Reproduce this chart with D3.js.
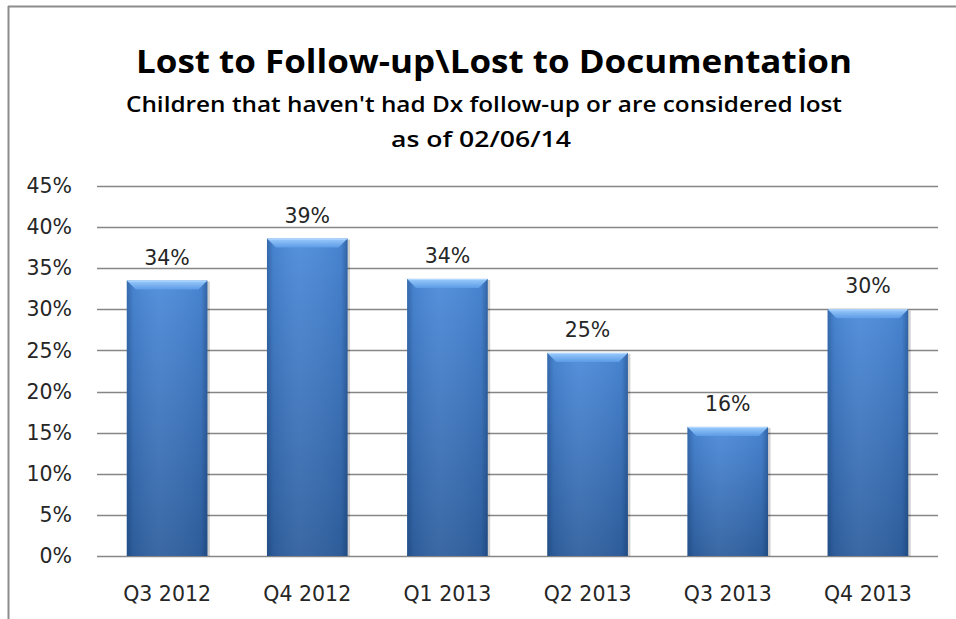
<!DOCTYPE html>
<html>
<head>
<meta charset="utf-8">
<script src="https://cdn.jsdelivr.net/npm/d3@7/dist/d3.min.js"></script>
<style>
  html, body { margin: 0; padding: 0; background: #fff; }
  svg { display: block; }
</style>
</head>
<body>
<div id="chart"></div>
<script>
"use strict";

var categories = ["Q3 2012", "Q4 2012", "Q1 2013", "Q2 2013", "Q3 2013", "Q4 2013"];
var values = [0.335, 0.386, 0.337, 0.247, 0.157, 0.300];
var valueLabels = ["34%", "39%", "34%", "25%", "16%", "30%"];
var yTicks = [0, 0.05, 0.10, 0.15, 0.20, 0.25, 0.30, 0.35, 0.40, 0.45];
var titleLines = ["Lost to Follow-up\\Lost to Documentation"];
var subtitleLines = ["Children that haven't had Dx follow-up or are considered lost", "as of 02/06/14"];

(function () {
    var W = 956, H = 619;
    var plot = { left: 97, right: 938, top: 186, bottom: 556 };
    var labelFont = "'DejaVu Sans', Verdana, sans-serif";
    var labelSize = "20.5px";

    var svg = d3.select("#chart").append("svg")
        .attr("width", W)
        .attr("height", H);

    var defs = svg.append("defs");

    //  Gradients  ---
    var vGrad = defs.append("linearGradient").attr("id", "barV")
        .attr("x1", 0).attr("y1", 0).attr("x2", 0).attr("y2", 1);
    vGrad.append("stop").attr("offset", "0%").attr("stop-color", "#4d8bda");
    vGrad.append("stop").attr("offset", "100%").attr("stop-color", "#30609f");

    var hGrad = defs.append("linearGradient").attr("id", "barH")
        .attr("x1", 0).attr("y1", 0).attr("x2", 1).attr("y2", 0);
    hGrad.append("stop").attr("offset", "0%").attr("stop-color", "#0a2a55").attr("stop-opacity", 0.35);
    hGrad.append("stop").attr("offset", "8%").attr("stop-color", "#0a2a55").attr("stop-opacity", 0.08);
    hGrad.append("stop").attr("offset", "40%").attr("stop-color", "#ffffff").attr("stop-opacity", 0.05);
    hGrad.append("stop").attr("offset", "92%").attr("stop-color", "#0a2a55").attr("stop-opacity", 0.08);
    hGrad.append("stop").attr("offset", "100%").attr("stop-color", "#0a2a55").attr("stop-opacity", 0.4);

    var topGrad = defs.append("linearGradient").attr("id", "barTop")
        .attr("x1", 0).attr("y1", 0).attr("x2", 0).attr("y2", 1);
    topGrad.append("stop").attr("offset", "0%").attr("stop-color", "#9acbfb");
    topGrad.append("stop").attr("offset", "100%").attr("stop-color", "#5d9be6");

    //  Frame (only left and top edges visible)  ---
    svg.append("line")
        .attr("x1", 8.5).attr("y1", 6).attr("x2", 8.5).attr("y2", H)
        .attr("stroke", "#8c8c8c").attr("stroke-width", 2);
    svg.append("line")
        .attr("x1", 8).attr("y1", 6.5).attr("x2", W).attr("y2", 6.5)
        .attr("stroke", "#8c8c8c").attr("stroke-width", 2);

    //  Titles  ---
    svg.append("text")
        .attr("x", 494).attr("y", 73)
        .attr("text-anchor", "middle")
        .style("font-family", "'Open Sans', 'Noto Sans', sans-serif")
        .style("font-weight", "bold")
        .style("font-size", "32px")
        .attr("textLength", 716)
        .attr("lengthAdjust", "spacingAndGlyphs")
        .attr("fill", "#000")
        .text(titleLines[0]);

    svg.selectAll(".subtitle").data(subtitleLines).enter().append("text")
        .attr("class", "subtitle")
        .attr("x", function (d, i) { return i === 0 ? 484 : 481; })
        .attr("y", function (d, i) { return 112 + i * 35; })
        .attr("text-anchor", "middle")
        .style("font-family", "'Open Sans', 'Noto Sans', sans-serif")
        .style("font-weight", "600")
        .style("font-size", "22px")
        .attr("textLength", function (d, i) { return i === 0 ? 716 : 180; })
        .attr("lengthAdjust", "spacingAndGlyphs")
        .attr("fill", "#000")
        .text(function (d) { return d; });

    //  Scales  ---
    var x = d3.scaleBand()
        .domain(categories)
        .range([plot.left, plot.right])
        .paddingInner(0.425)
        .paddingOuter(0.2125);

    var y = d3.scaleLinear()
        .domain([0, 0.45])
        .range([plot.bottom, plot.top]);

    //  Gridlines  ---
    svg.append("g")
        .attr("class", "grid")
        .selectAll("line").data(yTicks).enter().append("line")
        .attr("x1", plot.left)
        .attr("x2", plot.right)
        .attr("y1", function (d) { return Math.round(y(d)) + 0.5; })
        .attr("y2", function (d) { return Math.round(y(d)) + 0.5; })
        .attr("stroke", "#868686")
        .attr("stroke-width", 1.3);

    //  Y axis labels  ---
    var yAxis = d3.axisLeft(y)
        .tickValues(yTicks)
        .tickFormat(d3.format(".0%"))
        .tickSize(0)
        .tickPadding(25);
    var yG = svg.append("g")
        .attr("transform", "translate(" + plot.left + ",0)")
        .call(yAxis);
    yG.select(".domain").remove();
    yG.selectAll("text")
        .style("font-family", labelFont)
        .style("font-size", labelSize)
        .attr("fill", "#262626");

    //  X axis labels  ---
    var xAxis = d3.axisBottom(x).tickSize(0).tickPadding(30);
    var xG = svg.append("g")
        .attr("transform", "translate(0," + plot.bottom + ")")
        .call(xAxis);
    xG.select(".domain").remove();
    xG.selectAll("text")
        .style("font-family", labelFont)
        .style("font-size", labelSize)
        .attr("fill", "#262626");

    //  Bars  ---
    var bev = 9;
    var bars = svg.append("g").attr("class", "bars")
        .selectAll("g").data(values).enter().append("g");

    // soft shadow
    bars.append("rect")
        .attr("x", function (d, i) { return x(categories[i]) + 1; })
        .attr("y", function (d) { return y(d) + 1; })
        .attr("width", x.bandwidth() + 1.5)
        .attr("height", function (d) { return y(0) - y(d) - 1; })
        .attr("fill", "#000")
        .attr("opacity", 0.18);

    bars.append("rect")
        .attr("x", function (d, i) { return x(categories[i]); })
        .attr("y", function (d) { return y(d); })
        .attr("width", x.bandwidth())
        .attr("height", function (d) { return y(0) - y(d); })
        .attr("fill", "url(#barV)");

    bars.append("rect")
        .attr("x", function (d, i) { return x(categories[i]); })
        .attr("y", function (d) { return y(d); })
        .attr("width", x.bandwidth())
        .attr("height", function (d) { return y(0) - y(d); })
        .attr("fill", "url(#barH)");

    // top bevel
    bars.append("path")
        .attr("d", function (d, i) {
            var x0 = x(categories[i]), x1 = x0 + x.bandwidth(), t = y(d);
            return "M" + x0 + "," + t + "L" + x1 + "," + t +
                "L" + (x1 - bev) + "," + (t + bev) + "L" + (x0 + bev) + "," + (t + bev) + "Z";
        })
        .attr("fill", "url(#barTop)");

    // top highlight edge
    bars.append("line")
        .attr("x1", function (d, i) { return x(categories[i]) + 1; })
        .attr("x2", function (d, i) { return x(categories[i]) + x.bandwidth() - 1; })
        .attr("y1", function (d) { return y(d) + 0.5; })
        .attr("y2", function (d) { return y(d) + 0.5; })
        .attr("stroke", "#b5d9ff")
        .attr("stroke-width", 1);

    //  Value labels  ---
    svg.append("g").attr("class", "labels")
        .selectAll("text").data(values).enter().append("text")
        .attr("x", function (d, i) { return x(categories[i]) + x.bandwidth() / 2; })
        .attr("y", function (d) { return y(d) - 16; })
        .attr("text-anchor", "middle")
        .style("font-family", labelFont)
        .style("font-size", labelSize)
        .attr("fill", "#262626")
        .text(function (d, i) { return valueLabels[i]; });
}());
</script>
</body>
</html>
